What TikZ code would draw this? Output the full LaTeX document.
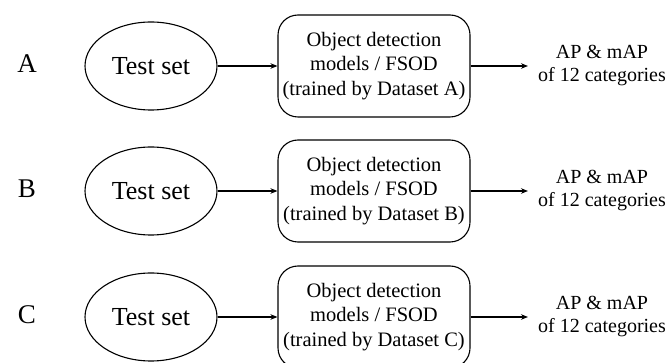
\documentclass[tikz,border=0pt]{standalone}
\usepackage{fontspec}
\setmainfont{Liberation Serif}
\usetikzlibrary{shapes.geometric,arrows.meta}
\tikzset{
  testset/.style={draw, line width=1.1pt, ellipse, minimum width=132pt, minimum height=88pt, inner sep=0pt, font=\fontsize{26}{30}\selectfont},
  modelbox/.style={draw, line width=1.1pt, rounded corners=20pt, minimum width=192pt, minimum height=102pt, inner sep=0pt, align=center, font=\fontsize{20.5}{24.5}\selectfont},
  outtext/.style={align=center, inner sep=0pt, font=\fontsize{20}{23}\selectfont},
  rowlabel/.style={inner sep=0pt, font=\fontsize{27}{30}\selectfont},
  flow/.style={line width=1.1pt, -{Stealth[length=7pt,width=5.5pt]}}
}
\begin{document}
\begin{tikzpicture}[x=1pt,y=-1pt]
\useasboundingbox (0,0) rectangle (667,363);
\foreach \r/\yy in {A/66, B/191, C/317}{
  \node[rowlabel] (lab\r) at (27,\yy-2.5) {\r};
  \node[testset] (ts\r) at (151,\yy) {Test set};
  \node[modelbox] (mb\r) at (374,\yy) {Object detection\\models / FSOD\\(trained by Dataset \r)};
  \node[outtext] (out\r) at (602,\yy) {AP \& mAP\\of 12 categories};
  \coordinate (end\r) at (528,\yy);
  \draw[flow] (ts\r.east) -- (mb\r.west);
  \draw[flow] (mb\r.east) -- (end\r);
}
\end{tikzpicture}
\end{document}
